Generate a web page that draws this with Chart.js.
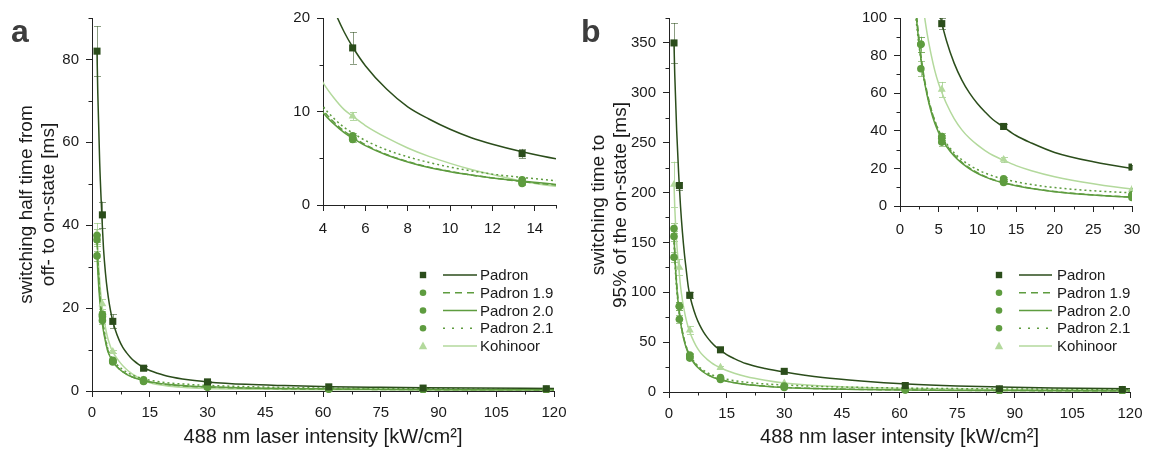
<!DOCTYPE html>
<html lang="en">
<head>
<meta charset="utf-8">
<title>Switching times vs. 488 nm intensity</title>
<script src="https://cdn.jsdelivr.net/npm/chart.js@4.4.1/dist/chart.umd.min.js"></script>
<style>
  html, body { margin: 0; padding: 0; background: #fff; }
  body { position: relative; width: 1151px; height: 453px; overflow: hidden; font-family: "Liberation Sans", Arial, sans-serif; }
  canvas { position: absolute; top: 0; }
  .tag { position: absolute; font-weight: bold; font-size: 32px; line-height: 32px; color: #3d3d3d; }
</style>
</head>
<body>
<canvas id="mainA" width="580" height="453" style="left:0"></canvas>
<canvas id="mainB" width="571" height="453" style="left:580px"></canvas>
<canvas id="insetA" width="300" height="240" style="left:280px"></canvas>
<canvas id="insetB" width="301" height="240" style="left:850px"></canvas>
<div class="tag" style="left:11px;top:15px">a</div>
<div class="tag" style="left:581px;top:15px">b</div>

<script>
// --- data ---

const seriesLabels = ['Padron', 'Padron 1.9', 'Padron 2.0', 'Padron 2.1', 'Kohinoor'];

// measured laser intensities, kW/cm²
const intensity = [1.3, 2.7, 5.4, 13.4, 30, 61.5, 86, 118];

// panel a: switching half time off -> on [ms]
const halfPadron = [82, 42.5, 16.8, 5.5, 2.2, 1.0, 0.7, 0.55];
const halfP19    = [36.5, 18.5, 7.4, 2.4, 1.0, 0.5, 0.4, 0.3];
const halfP20    = [32.6, 17.0, 7.0, 2.3, 0.9, 0.45, 0.35, 0.3];
const halfP21    = [37.5, 18.0, 7.2, 2.7, 1.1, 0.6, 0.45, 0.35];
const halfKoh    = [38, 21, 9.5, 2.6, 0.8, 0.5, 0.4, 0.3];

const halfErrPadron = [6, 3.2, 1.7, 0.5, 0.3, 0.15, 0.1, 0.1];
const halfErrP19    = [1.5, 0.8, 0.3, 0.2, 0.1, 0.05, 0.05, 0.05];
const halfErrP20    = [1.2, 0.8, 0.3, 0.2, 0.1, 0.05, 0.05, 0.05];
const halfErrP21    = [1.5, 0.8, 0.3, 0.2, 0.1, 0.05, 0.05, 0.05];
const halfErrKoh    = [2.5, 1.2, 0.4, 0.2, 0.1, 0.05, 0.05, 0.05];

// panel b: switching time to 95% of the on-state [ms]
const fullPadron = [350, 207, 97, 42.3, 20.7, 6.5, 3.2, 2.5];
const fullP19    = [164, 86, 37, 14.5, 6.0, 2.2, 1.6, 1.2];
const fullP20    = [156, 73, 34, 12.5, 4.5, 2.0, 1.4, 1.0];
const fullP21    = [135, 86, 36, 13.5, 5.5, 2.8, 2.2, 1.8];
const fullKoh    = [208, 125, 62, 24.7, 8.8, 4.0, 2.5, 2.0];

const fullErrPadron = [20, 4, 3, 1.5, 1, 0.5, 0.3, 0.3];
const fullErrP19    = [5, 4, 2, 1, 0.5, 0.3, 0.2, 0.2];
const fullErrP20    = [5, 4, 2, 1, 0.5, 0.3, 0.2, 0.2];
const fullErrP21    = [5, 4, 2, 1, 0.5, 0.3, 0.2, 0.2];
const fullErrKoh    = [23, 8, 4, 1.5, 1, 0.5, 0.3, 0.3];

// fitted curves, read at these intensities
const fitX = [1.3, 1.5, 2, 2.5, 2.7, 3, 3.5, 4, 4.5, 5, 5.4, 6, 7, 8, 9, 10, 11, 12, 13.4, 15, 17, 20, 25, 30, 40, 50, 62, 75, 86, 100, 120];

const halfFitPadron = [82, 72, 55, 43.5, 39.5, 34.2, 28.4, 24.2, 21.0, 18.5, 16.9, 14.9, 12.4, 10.5, 9.2, 8.1, 7.2, 6.5, 5.7, 4.95, 4.3, 3.5, 2.7, 2.2, 1.6, 1.3, 1.05, 0.9, 0.8, 0.7, 0.6];
const halfFitP19    = [36, 31.5, 23.5, 18.5, 17.0, 15.0, 12.4, 10.2, 8.9, 7.9, 7.3, 6.45, 5.4, 4.65, 4.05, 3.6, 3.2, 2.9, 2.5, 2.15, 1.85, 1.5, 1.15, 0.95, 0.7, 0.55, 0.45, 0.38, 0.34, 0.3, 0.26];
const halfFitP20    = [33, 29, 22, 17.5, 16.2, 14.3, 11.9, 9.9, 8.7, 7.75, 7.15, 6.35, 5.35, 4.6, 4.0, 3.55, 3.2, 2.9, 2.55, 2.2, 1.9, 1.55, 1.2, 1.0, 0.75, 0.6, 0.5, 0.42, 0.38, 0.33, 0.28];
const halfFitP21    = [37, 32, 24, 19, 17.5, 15.6, 12.9, 10.6, 9.3, 8.3, 7.7, 6.9, 5.9, 5.15, 4.55, 4.05, 3.65, 3.3, 2.95, 2.6, 2.3, 1.95, 1.6, 1.35, 1.05, 0.85, 0.7, 0.6, 0.55, 0.5, 0.45];
const halfFitKoh    = [38.5, 34, 26.5, 21.5, 20, 18, 15.3, 13.1, 11.5, 10.2, 9.5, 8.5, 7.2, 6.1, 5.2, 4.45, 3.8, 3.25, 2.55, 2.0, 1.55, 1.15, 0.8, 0.6, 0.45, 0.38, 0.32, 0.28, 0.26, 0.24, 0.22];

const fullFitPadron = [350, 318, 262, 220, 206, 186, 160, 139, 122, 106, 97.5, 88, 76, 67, 60, 54.5, 50, 46, 42, 37.5, 33.5, 28.5, 23.5, 20, 14.5, 11, 8, 6, 5, 4, 3.2];
const fullFitP19    = [163, 142, 109, 87.5, 80.5, 71.5, 60.5, 52, 45.2, 40, 36.7, 32.6, 27.3, 23.3, 20.2, 17.7, 15.7, 14.1, 12.5, 11, 9.4, 7.7, 5.9, 4.7, 3.3, 2.6, 2.1, 1.7, 1.5, 1.3, 1.1];
const fullFitP20    = [158, 138, 106, 85, 78.5, 70, 59, 50.5, 44, 39, 35.8, 31.8, 26.6, 22.8, 19.8, 17.4, 15.5, 13.9, 12.3, 10.8, 9.3, 7.6, 5.8, 4.6, 3.2, 2.5, 2.0, 1.6, 1.4, 1.2, 1.0];
const fullFitP21    = [150, 132, 103, 84, 78, 69.5, 59.5, 51.5, 45.3, 40.3, 37.2, 33.3, 28.3, 24.6, 21.7, 19.4, 17.5, 16, 14.3, 12.9, 11.4, 9.8, 8.1, 7.0, 5.5, 4.6, 3.9, 3.4, 3.1, 2.8, 2.5];
const fullFitKoh    = [210, 185, 150, 126, 118, 106, 92, 81, 72, 65, 60.5, 54.5, 46.5, 40.5, 36, 32.5, 29.5, 27, 24.3, 21.5, 18.8, 15.6, 11.8, 9, 6, 4.6, 3.6, 2.9, 2.5, 2.2, 1.9];

// tick values
const ticksIntensity = [0, 15, 30, 45, 60, 75, 90, 105, 120];
const ticksHalf      = [0, 20, 40, 60, 80];
const ticksFull      = [0, 50, 100, 150, 200, 250, 300, 350];
const ticksInsetAX   = [4, 6, 8, 10, 12, 14];
const ticksInsetAY   = [0, 10, 20];
const ticksInsetBX   = [0, 5, 10, 15, 20, 25, 30];
const ticksInsetBY   = [0, 20, 40, 60, 80, 100];

// --- styles ---
const DARK = '#2b4d1b', MID = '#5e9c3f', LIGHT = '#b3d99c';
const seriesLook = [
  { color: DARK,  err: 'rgba(43,77,27,0.55)',   point: 'rect',     r: 5,   dash: [],     legendDash: [],     legendR: 3.2 },
  { color: MID,   err: 'rgba(94,156,63,0.55)',  point: 'circle',   r: 3.8, dash: [6, 3], legendDash: [7, 5], legendR: 3.3 },
  { color: MID,   err: 'rgba(94,156,63,0.55)',  point: 'circle',   r: 3.8, dash: [],     legendDash: [],     legendR: 3.3 },
  { color: MID,   err: 'rgba(94,156,63,0.55)',  point: 'circle',   r: 3.8, dash: [2, 3], legendDash: [2, 7], legendR: 3.3 },
  { color: LIGHT, err: 'rgba(150,200,125,0.7)', point: 'triangle', r: 4.6, dash: [],     legendDash: [],     legendR: 4.2 },
];
const INK = '#1a1a1a';

Chart.defaults.font.family = '"Liberation Sans", Arial, sans-serif';
Chart.defaults.color = INK;

// error bars drawn under the markers, clipped to the plot area
const errorBarPlugin = {
  id: 'errorBars',
  beforeDatasetsDraw(chart) {
    const ctx = chart.ctx, area = chart.chartArea, ys = chart.scales.y;
    ctx.save();
    ctx.beginPath();
    ctx.rect(area.left, area.top - 1, area.right - area.left + 1, area.bottom - area.top + 1);
    ctx.clip();
    chart.data.datasets.forEach((ds, di) => {
      if (!ds.errors) return;
      const meta = chart.getDatasetMeta(di);
      ctx.strokeStyle = ds.errorColor;
      ctx.lineWidth = 1;
      meta.data.forEach((pt, j) => {
        const v = ds.data[j].y, e = ds.errors[j];
        const top = ys.getPixelForValue(v + e), bot = ys.getPixelForValue(v - e);
        if (bot - top < 2) return;
        const x = Math.round(pt.x) + 0.5;
        ctx.beginPath();
        ctx.moveTo(x, top); ctx.lineTo(x, bot);
        ctx.moveTo(x - 3.5, Math.round(top) + 0.5); ctx.lineTo(x + 3.5, Math.round(top) + 0.5);
        ctx.moveTo(x - 3.5, Math.round(bot) + 0.5); ctx.lineTo(x + 3.5, Math.round(bot) + 0.5);
        ctx.stroke();
      });
    });
    ctx.restore();
  }
};

// short unlabelled ticks between the major ones
const minorTickPlugin = {
  id: 'minorTicks',
  afterDraw(chart, args, opts) {
    const ctx = chart.ctx, xs = chart.scales.x, ys = chart.scales.y, area = chart.chartArea;
    ctx.save();
    ctx.strokeStyle = '#222';
    ctx.lineWidth = 1;
    ctx.beginPath();
    for (let v = xs.min; v <= xs.max + 1e-9; v += opts.xMinor) {
      if (Math.abs(v / opts.xMajor - Math.round(v / opts.xMajor)) < 1e-6) continue;
      const px = Math.round(xs.getPixelForValue(v)) + 0.5;
      ctx.moveTo(px, area.bottom); ctx.lineTo(px, area.bottom + 3.5);
    }
    for (let v = ys.min; v <= ys.max + 1e-9; v += opts.yMinor) {
      if (Math.abs(v / opts.yMajor - Math.round(v / opts.yMajor)) < 1e-6) continue;
      const py = Math.round(ys.getPixelForValue(v)) + 0.5;
      ctx.moveTo(area.left, py); ctx.lineTo(area.left - 3.5, py);
    }
    ctx.stroke();
    ctx.restore();
  }
};

Chart.register(errorBarPlugin, minorTickPlugin);

function drawMarker(ctx, kind, x, y, color, r) {
  ctx.fillStyle = color;
  ctx.beginPath();
  if (kind === 'rect') {
    ctx.rect(x - r, y - r, 2 * r, 2 * r);
  } else if (kind === 'triangle') {
    ctx.moveTo(x, y - r * 1.1);
    ctx.lineTo(x + r, y + r * 0.75);
    ctx.lineTo(x - r, y + r * 0.75);
    ctx.closePath();
  } else {
    ctx.arc(x, y, r, 0, Math.PI * 2);
  }
  ctx.fill();
}

// legend: marker, line sample, name
function legendPlugin(box) {
  return {
    id: 'fitLegend',
    afterDraw(chart) {
      const ctx = chart.ctx;
      ctx.save();
      seriesLabels.forEach((label, i) => {
        const look = seriesLook[i];
        const y = box.top + i * box.gap;
        drawMarker(ctx, look.point, box.markerX, y, look.color, look.legendR);
        ctx.strokeStyle = look.color;
        ctx.lineWidth = 1.5;
        ctx.setLineDash(look.legendDash);
        ctx.beginPath();
        ctx.moveTo(box.lineFrom, y); ctx.lineTo(box.lineTo, y);
        ctx.stroke();
        ctx.setLineDash([]);
        ctx.fillStyle = INK;
        ctx.font = '15px "Liberation Sans", Arial, sans-serif';
        ctx.textAlign = 'left';
        ctx.textBaseline = 'middle';
        ctx.fillText(label, box.textX, y + 1);
      });
      ctx.restore();
    }
  };
}

function buildDatasets(points, errors, fits, clip) {
  const ds = [];
  seriesLabels.forEach((label, i) => {
    const look = seriesLook[i];
    ds.push({
      label: label,
      data: intensity.map((x, j) => ({ x: x, y: points[i][j] })),
      errors: errors[i],
      errorColor: look.err,
      showLine: false,
      pointStyle: look.point,
      pointRadius: look.r,
      pointBorderWidth: 0,
      backgroundColor: look.color,
      borderColor: look.color,
      order: i,
      clip: clip
    });
    ds.push({
      label: label + ' fit',
      data: fitX.map((x, j) => ({ x: x, y: fits[i][j] })),
      showLine: true,
      pointRadius: 0,
      borderColor: look.color,
      borderWidth: 1.5,
      borderDash: look.dash,
      cubicInterpolationMode: 'monotone',
      fill: false,
      order: 10 + i,
      clip: clip
    });
  });
  return ds;
}

function makeOptions(p) {
  const tickFont = { size: 15 };
  return {
    responsive: false,
    animation: false,
    events: [],
    layout: { padding: p.padding },
    plugins: {
      legend: { display: false },
      tooltip: { enabled: false },
      minorTicks: { xMinor: p.xMinor, xMajor: p.xMajor, yMinor: p.yMinor, yMajor: p.yMajor }
    },
    scales: {
      x: {
        type: 'linear', min: p.xMin, max: p.xMax,
        afterBuildTicks: axis => { axis.ticks = p.xTicks.map(v => ({ value: v })); },
        afterFit: axis => { axis.height = p.xHeight; },
        ticks: { font: tickFont, color: INK, padding: p.xPad, maxRotation: 0, autoSkip: false, callback: v => String(v) },
        grid: { drawOnChartArea: false, drawTicks: true, tickLength: 6, tickColor: '#222', tickWidth: 1 },
        border: { display: true, color: '#222', width: 1 },
        title: p.xTitle ? { display: true, text: p.xTitle, font: { size: 20, lineHeight: 1.15 }, color: INK, padding: { top: 0, bottom: 4 } } : { display: false }
      },
      y: {
        type: 'linear', min: p.yMin, max: p.yMax,
        afterBuildTicks: axis => { axis.ticks = p.yTicks.map(v => ({ value: v })); },
        afterFit: axis => { axis.width = p.yWidth; },
        ticks: { font: tickFont, color: INK, padding: p.yPad, autoSkip: false, callback: v => String(v) },
        grid: { drawOnChartArea: false, drawTicks: true, tickLength: 6, tickColor: '#222', tickWidth: 1 },
        border: { display: true, color: '#222', width: 1 },
        title: p.yTitle ? { display: true, text: p.yTitle, font: { size: 19, lineHeight: 1.15 }, color: INK, padding: { top: p.yTitlePad, bottom: 0 } } : { display: false }
      }
    }
  };
}

const halfPoints = [halfPadron, halfP19, halfP20, halfP21, halfKoh];
const halfErrors = [halfErrPadron, halfErrP19, halfErrP20, halfErrP21, halfErrKoh];
const halfFits   = [halfFitPadron, halfFitP19, halfFitP20, halfFitP21, halfFitKoh];
const fullPoints = [fullPadron, fullP19, fullP20, fullP21, fullKoh];
const fullErrors = [fullErrPadron, fullErrP19, fullErrP20, fullErrP21, fullErrKoh];
const fullFits   = [fullFitPadron, fullFitP19, fullFitP20, fullFitP21, fullFitKoh];

const xTitle = '488 nm laser intensity [kW/cm²]';

// panel a, main
new Chart(document.getElementById('mainA'), {
  type: 'line',
  data: { datasets: buildDatasets(halfPoints, halfErrors, halfFits, 2) },
  options: makeOptions({
    padding: { left: 0, top: 18, right: 26, bottom: 0 },
    xMin: 0, xMax: 120, xTicks: ticksIntensity, xMajor: 15, xMinor: 7.5, xHeight: 62, xPad: 7, xTitle: xTitle,
    yMin: 0, yMax: 90, yTicks: ticksHalf, yMajor: 20, yMinor: 10, yWidth: 92, yPad: 7,
    yTitle: ['switching half time from', 'off- to on-state [ms]'], yTitlePad: 16
  }),
  plugins: [legendPlugin({ markerX: 423, lineFrom: 443, lineTo: 477, textX: 480, top: 275, gap: 17.75 })]
});

// panel b, main
new Chart(document.getElementById('mainB'), {
  type: 'line',
  data: { datasets: buildDatasets(fullPoints, fullErrors, fullFits, 2) },
  options: makeOptions({
    padding: { left: 0, top: 18, right: 21, bottom: 0 },
    xMin: 0, xMax: 120, xTicks: ticksIntensity, xMajor: 15, xMinor: 7.5, xHeight: 61, xPad: 7, xTitle: xTitle,
    yMin: 0, yMax: 375, yTicks: ticksFull, yMajor: 50, yMinor: 25, yWidth: 89, yPad: 7,
    yTitle: ['switching time to', '95% of the on-state [ms]'], yTitlePad: 8
  }),
  plugins: [legendPlugin({ markerX: 419, lineFrom: 439, lineTo: 472, textX: 477, top: 275, gap: 17.75 })]
});

// panel a, inset
new Chart(document.getElementById('insetA'), {
  type: 'line',
  data: { datasets: buildDatasets(halfPoints, halfErrors, halfFits, 0) },
  options: makeOptions({
    padding: { left: 0, top: 18, right: 24, bottom: 0 },
    xMin: 4, xMax: 15, xTicks: ticksInsetAX, xMajor: 2, xMinor: 1, xHeight: 35, xPad: 9,
    yMin: 0, yMax: 20, yTicks: ticksInsetAY, yMajor: 10, yMinor: 5, yWidth: 43, yPad: 7
  })
});

// panel b, inset
new Chart(document.getElementById('insetB'), {
  type: 'line',
  data: { datasets: buildDatasets(fullPoints, fullErrors, fullFits, 0) },
  options: makeOptions({
    padding: { left: 0, top: 18, right: 19, bottom: 0 },
    xMin: 0, xMax: 30, xTicks: ticksInsetBX, xMajor: 5, xMinor: 2.5, xHeight: 34, xPad: 9,
    yMin: 0, yMax: 100, yTicks: ticksInsetBY, yMajor: 20, yMinor: 10, yWidth: 50, yPad: 7
  })
});
</script>
</body>
</html>
